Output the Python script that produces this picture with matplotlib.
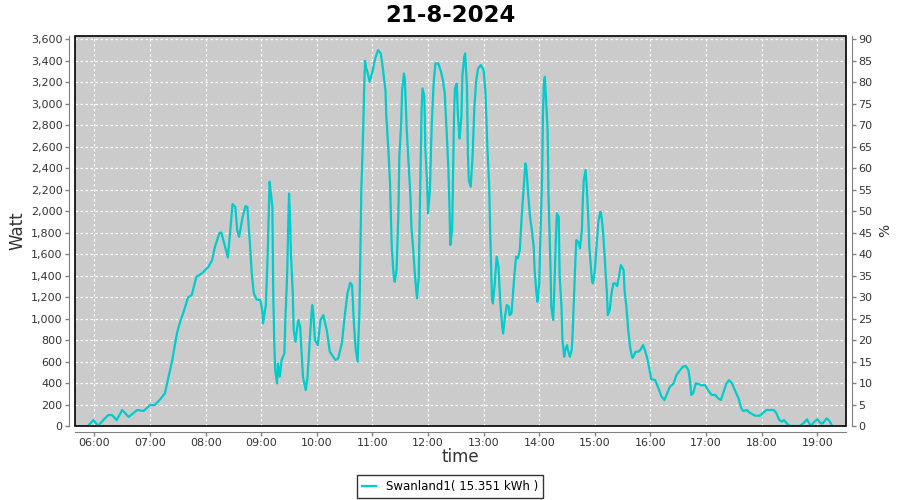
import matplotlib

matplotlib.use("Agg")
import matplotlib.pyplot as plt
import matplotlib.dates as mdates
from matplotlib import font_manager
from matplotlib.patches import Rectangle
from matplotlib.ticker import FuncFormatter, MultipleLocator
import pandas as pd

DAY = "2024-08-21"
TITLE = "21-8-2024"
SERIES = "Swanland1( 15.351 kWh )"

times = [
    "05:53", "05:59", "06:04", "06:10", "06:15", "06:19", "06:24", "06:30", "06:37", "06:46",
    "06:53", "07:00", "07:05", "07:11", "07:16", "07:20", "07:24", "07:29", "07:32", "07:38",
    "07:41", "07:45", "07:50", "07:56", "08:03", "08:07", "08:10", "08:15", "08:17", "08:21",
    "08:24", "08:26", "08:29", "08:32", "08:34", "08:36", "08:40", "08:43", "08:45", "08:48",
    "08:50", "08:52", "08:55", "08:59", "09:01", "09:02", "09:05", "09:07", "09:09", "09:10",
    "09:12", "09:13", "09:14", "09:15", "09:17", "09:18", "09:20", "09:22", "09:25", "09:26",
    "09:28", "09:29", "09:30", "09:31", "09:32", "09:34", "09:35", "09:37", "09:38", "09:40",
    "09:42", "09:44", "09:45", "09:48", "09:50", "09:53", "09:55", "09:56", "09:58", "10:01",
    "10:04", "10:07", "10:11", "10:14", "10:20", "10:23", "10:27", "10:30", "10:33", "10:36",
    "10:38", "10:40", "10:42", "10:44", "10:46", "10:47", "10:48", "10:50", "10:51", "10:52",
    "10:53", "10:55", "10:57", "11:00", "11:03", "11:06", "11:09", "11:11", "11:14", "11:15",
    "11:17", "11:19", "11:20", "11:21", "11:23", "11:24", "11:26", "11:28", "11:29", "11:31",
    "11:32", "11:34", "11:35", "11:37", "11:39", "11:41", "11:42", "11:44", "11:46", "11:48",
    "11:50", "11:51", "11:53", "11:54", "11:56", "11:57", "11:59", "12:00", "12:02", "12:04",
    "12:06", "12:08", "12:11", "12:14", "12:16", "12:18", "12:20", "12:22", "12:23", "12:24",
    "12:26", "12:27", "12:28", "12:29", "12:31", "12:32", "12:33", "12:34", "12:36", "12:37",
    "12:39", "12:40", "12:42", "12:43", "12:44", "12:46", "12:48", "12:50", "12:52", "12:54",
    "12:57", "13:00", "13:02", "13:04", "13:06", "13:07", "13:08", "13:09", "13:10", "13:12",
    "13:14", "13:16", "13:18", "13:20", "13:21", "13:23", "13:25", "13:27", "13:28", "13:30",
    "13:33", "13:35", "13:37", "13:39", "13:41", "13:43", "13:45", "13:46", "13:48", "13:50",
    "13:52", "13:54", "13:55", "13:57", "13:58", "14:00", "14:01", "14:03", "14:04", "14:05",
    "14:06", "14:07", "14:09", "14:10", "14:12", "14:13", "14:15", "14:16", "14:18", "14:19",
    "14:21", "14:22", "14:24", "14:25", "14:27", "14:28", "14:30", "14:31", "14:33", "14:35",
    "14:36", "14:38", "14:39", "14:40", "14:42", "14:44", "14:46", "14:47", "14:48", "14:50",
    "14:51", "14:53", "14:54", "14:56", "14:57", "14:58", "15:00", "15:02", "15:04", "15:06",
    "15:07", "15:09", "15:11", "15:13", "15:14", "15:16", "15:18", "15:20", "15:22", "15:24",
    "15:26", "15:28", "15:31", "15:32", "15:34", "15:36", "15:38", "15:40", "15:41", "15:44",
    "15:47", "15:49", "15:52", "15:54", "15:57", "15:59", "16:01", "16:05", "16:08", "16:12",
    "16:15", "16:18", "16:21", "16:25", "16:28", "16:32", "16:35", "16:38", "16:41", "16:43",
    "16:44", "16:46", "16:49", "16:52", "16:55", "16:59", "17:02", "17:06", "17:10", "17:13",
    "17:16", "17:19", "17:22", "17:25", "17:28", "17:31", "17:35", "17:38", "17:40", "17:44",
    "17:47", "17:53", "17:58", "18:01", "18:05", "18:09", "18:13", "18:16", "18:19", "18:22",
    "18:24", "18:28", "18:31", "18:41", "18:45", "18:49", "18:53", "18:57", "19:00", "19:04",
    "19:06", "19:10", "19:13", "19:16",
]

watt = [
    0, 56, 0, 60, 102, 102, 56, 149, 84, 149,
    140, 195, 195, 248, 304, 459, 614, 863, 956, 1111,
    1198, 1220, 1390, 1421, 1483, 1545, 1669, 1800, 1800, 1669,
    1570, 1762, 2067, 2040, 1825, 1762, 1949, 2048, 2040, 1669,
    1390, 1235, 1179, 1173, 1080, 956, 1130, 1608, 2275, 2200,
    2040, 1210, 800, 521, 397, 583, 459, 614, 677, 987,
    1421, 1825, 2166, 1949, 1608, 1235, 894, 785, 863, 987,
    925, 614, 459, 335, 459, 894, 1126, 1064, 800, 754,
    987, 1033, 878, 692, 614, 630, 770, 1018, 1235, 1334,
    1312, 956, 707, 599, 1080, 1639, 2200, 2756, 3128, 3401,
    3345, 3283, 3206, 3299, 3423, 3500, 3470, 3345, 3128, 2880,
    2600, 2259, 1918, 1639, 1390, 1343, 1452, 1980, 2507, 2818,
    3128, 3283, 3221, 2756, 2445, 2135, 1856, 1639, 1390, 1189,
    1390, 1949, 2942, 3144, 3066, 2600, 2259, 1980, 2200, 2818,
    3190, 3377, 3377, 3299, 3221, 3097, 2756, 2383, 2073, 1685,
    1825, 2383, 2880, 3144, 3190, 2942, 2787, 2678, 2880, 3252,
    3438, 3470, 3159, 2539, 2290, 2228, 2507, 2973, 3221, 3330,
    3361, 3314, 3097, 2600, 2228, 1825, 1515, 1173, 1142, 1328,
    1577, 1483, 1142, 925, 863, 1018, 1126, 1111, 1033, 1049,
    1390, 1577, 1561, 1639, 1949, 2200, 2445, 2414, 2166, 1949,
    1825, 1669, 1452, 1235, 1157, 1328, 1701, 2290, 2911, 3190,
    3252, 3097, 2756, 2135, 1515, 1111, 987, 1204, 1762, 1980,
    1949, 1390, 1111, 800, 645, 707, 754, 707, 645, 707,
    863, 1328, 1545, 1731, 1716, 1654, 1825, 2104, 2290, 2383,
    2259, 1918, 1669, 1452, 1343, 1328, 1452, 1701, 1918, 1996,
    1965, 1794, 1515, 1235, 1033, 1080, 1235, 1328, 1328, 1303,
    1390, 1499, 1452, 1266, 1111, 894, 738, 645, 636, 692,
    692, 707, 754, 707, 614, 521, 434, 428, 366, 273,
    242, 304, 366, 397, 475, 521, 552, 560, 520, 397,
    289, 304, 397, 390, 380, 380, 335, 289, 289, 258,
    242, 320, 397, 428, 397, 335, 258, 165, 140, 149,
    124, 96, 96, 118, 149, 149, 149, 118, 56, 40,
    56, 16, 0, 0, 25, 62, 0, 40, 62, 25,
    25, 71, 50, 0,
]

W_MAX = 3635          # top of the left axis
PCT_PER_W = 90 / 3600  # right axis: 90 % at 3600 W

# the original uses a narrow sans for ticks and legend; use one if present
installed = {f.name for f in font_manager.fontManager.ttflist}
NARROW = "Liberation Sans Narrow" if "Liberation Sans Narrow" in installed else "DejaVu Sans"
small = 9.5 if NARROW != "DejaVu Sans" else 8

t = pd.to_datetime([f"{DAY} {hm}" for hm in times])

fig = plt.figure(figsize=(9, 5), dpi=100)
ax = fig.add_axes([0.0833, 0.148, 0.8567, 0.7806])
ax.set_facecolor("#cbcbcb")

ax.plot(t, watt, color="#00cccc", lw=1.6, label=SERIES, zorder=3)

ax.set_xlim(pd.Timestamp(f"{DAY} 05:39"), pd.Timestamp(f"{DAY} 19:31"))
ax.set_ylim(0, W_MAX)
ax.yaxis.set_major_locator(MultipleLocator(200))
ax.yaxis.set_major_formatter(FuncFormatter(lambda v, _: f"{int(v):,}"))
ax.xaxis.set_major_locator(mdates.HourLocator())
ax.xaxis.set_major_formatter(mdates.DateFormatter("%H:%M"))
ax.grid(True, color="white", ls=(0, (2, 2)), lw=0.9)
ax.set_axisbelow(True)

ax2 = ax.twinx()
ax2.set_ylim(0, W_MAX * PCT_PER_W)
ax2.yaxis.set_major_locator(MultipleLocator(5))

for a in (ax, ax2):
    for side, sp in a.spines.items():
        sp.set_color("#808080")
        sp.set_position(("outward", 4))
    a.tick_params(colors="#808080", labelcolor="#333333", labelsize=small,
                  length=3, width=1, pad=2)
    for lab in a.get_xticklabels() + a.get_yticklabels():
        lab.set_family(NARROW)
ax.spines["top"].set_visible(False)
ax.spines["right"].set_visible(False)
ax2.spines["top"].set_visible(False)
ax2.spines["left"].set_visible(False)
ax2.spines["bottom"].set_visible(False)

ax.add_patch(Rectangle((0, 0), 1, 1, transform=ax.transAxes, fill=False,
                       ec="black", lw=1.2, zorder=5, clip_on=False))

ax.set_ylabel("Watt", fontsize=12, color="#333333", labelpad=3)
ax.set_xlabel("time", fontsize=12, color="#333333", labelpad=0)
ax2.set_ylabel("%", fontsize=10, color="#333333", labelpad=4)
fig.suptitle(TITLE, fontsize=16.5, fontweight="bold", y=0.993)

leg = fig.legend(loc="lower center", bbox_to_anchor=(0.5, 0.0),
                 prop={"family": NARROW, "size": small + 0.5},
                 frameon=True, fancybox=False, edgecolor="black",
                 handlelength=1.2, borderpad=0.45, borderaxespad=0.15)
leg.get_frame().set_linewidth(1.0)

fig.savefig("out.png", dpi=100)
